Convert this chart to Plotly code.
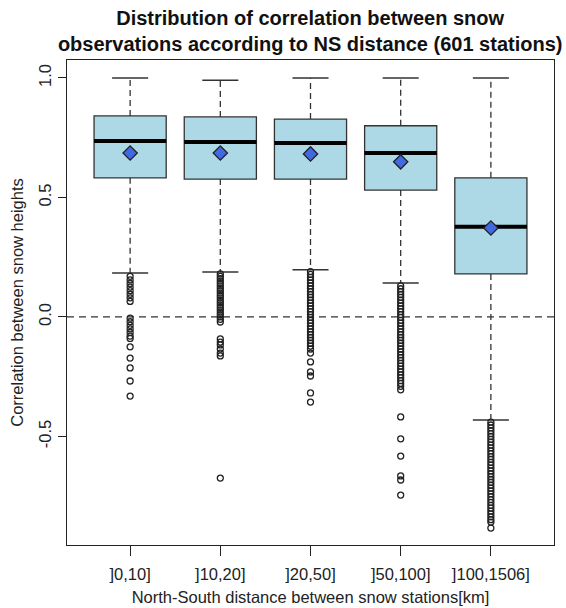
import plotly.graph_objects as go

categories = ["]0,10]", "]10,20]", "]20,50]", "]50,100]", "]100,1506]"]
q1 = [0.582, 0.577, 0.577, 0.531, 0.180]
median = [0.736, 0.732, 0.728, 0.686, 0.377]
q3 = [0.841, 0.837, 0.828, 0.800, 0.582]
mean = [0.686, 0.686, 0.682, 0.649, 0.372]
upper_whisker = [1.0, 0.99, 1.0, 1.0, 1.0]
lower_whisker = [0.184, 0.188, 0.197, 0.142, -0.431]

out_1 = [0.17, 0.155, 0.14, 0.125, 0.11, 0.095, 0.08, 0.065,
         -0.005, -0.02, -0.035, -0.05, -0.065, -0.08, -0.09, -0.125,
         -0.172, -0.213, -0.268, -0.331]
out_2 = [0.18, 0.17, 0.16, 0.15, 0.14, 0.13, 0.12, 0.11, 0.10, 0.09, 0.08,
         0.07, 0.06, 0.05, 0.04, 0.03, 0.02, 0.01, 0.0, -0.01, -0.021,
         -0.092, -0.105, -0.117, -0.134, -0.151, -0.163, -0.674]
out_3 = [0.19, 0.178, 0.166, 0.154, 0.142, 0.13, 0.118, 0.106, 0.094, 0.082,
         0.07, 0.058, 0.046, 0.034, 0.022, 0.01, -0.002, -0.014, -0.026,
         -0.038, -0.05, -0.062, -0.074, -0.086, -0.098, -0.11, -0.122,
         -0.134, -0.151, -0.188, -0.23, -0.247, -0.318, -0.356]
out_4 = [0.13, 0.118, 0.106, 0.094, 0.082, 0.07, 0.058, 0.046, 0.034, 0.022,
         0.01, -0.002, -0.014, -0.026, -0.038, -0.05, -0.062, -0.074, -0.086,
         -0.098, -0.11, -0.122, -0.134, -0.146, -0.158, -0.17, -0.182,
         -0.194, -0.206, -0.218, -0.23, -0.242, -0.254, -0.266, -0.278,
         -0.29, -0.305, -0.418, -0.51, -0.582, -0.665, -0.682, -0.745]
out_5 = [-0.44, -0.452, -0.464, -0.476, -0.488, -0.5, -0.512, -0.524, -0.536,
         -0.548, -0.56, -0.572, -0.584, -0.596, -0.608, -0.62, -0.632,
         -0.644, -0.656, -0.668, -0.68, -0.692, -0.704, -0.716, -0.728,
         -0.74, -0.752, -0.764, -0.776, -0.788, -0.8, -0.812, -0.824,
         -0.836, -0.848, -0.858, -0.883]
outliers = [out_1, out_2, out_3, out_4, out_5]

positions = [1, 2, 3, 4, 5]
BOX_W = 0.8
CAP_W = 0.4
dark = "#333333"

fig = go.Figure()

# zero reference line
fig.add_trace(go.Scatter(x=[0.3, 5.7], y=[0, 0], mode="lines",
                         line=dict(color="#333333", width=1.3, dash="7px,5px"),
                         hoverinfo="skip", showlegend=False))

# dashed whiskers
wx, wy = [], []
for i, p in enumerate(positions):
    wx += [p, p, None, p, p, None]
    wy += [q3[i], upper_whisker[i], None, q1[i], lower_whisker[i], None]
fig.add_trace(go.Scatter(x=wx, y=wy, mode="lines",
                         line=dict(color=dark, width=1.3, dash="6px,4px"),
                         hoverinfo="skip", showlegend=False))

# caps
cx, cy = [], []
for i, p in enumerate(positions):
    cx += [p - CAP_W / 2, p + CAP_W / 2, None, p - CAP_W / 2, p + CAP_W / 2, None]
    cy += [upper_whisker[i], upper_whisker[i], None, lower_whisker[i], lower_whisker[i], None]
fig.add_trace(go.Scatter(x=cx, y=cy, mode="lines",
                         line=dict(color=dark, width=1.5),
                         hoverinfo="skip", showlegend=False))

# boxes
for i, p in enumerate(positions):
    fig.add_trace(go.Box(x=[p], q1=[q1[i]], median=[median[i]], q3=[q3[i]],
                         lowerfence=[q1[i]], upperfence=[q3[i]],
                         width=BOX_W, fillcolor="#ADD8E6",
                         line=dict(color=dark, width=1.3),
                         boxpoints=False, hoverinfo="skip", showlegend=False))

# thick medians
mx, my = [], []
for i, p in enumerate(positions):
    mx += [p - BOX_W / 2, p + BOX_W / 2, None]
    my += [median[i], median[i], None]
fig.add_trace(go.Scatter(x=mx, y=my, mode="lines",
                         line=dict(color="black", width=4),
                         hoverinfo="skip", showlegend=False))

# outliers
ox, oy = [], []
for i, p in enumerate(positions):
    ox += [p] * len(outliers[i])
    oy += outliers[i]
fig.add_trace(go.Scatter(x=ox, y=oy, mode="markers",
                         marker=dict(symbol="circle-open", size=6, color="#222222",
                                     line=dict(width=1.3, color="#222222")),
                         hoverinfo="skip", showlegend=False))

# means
fig.add_trace(go.Scatter(x=positions, y=mean, mode="markers",
                         marker=dict(symbol="diamond", size=11, color="#4169E1",
                                     line=dict(width=1.3, color="#222222")),
                         hoverinfo="skip", showlegend=False))

fig.update_layout(
    width=566, height=608,
    margin=dict(l=67, r=12, t=60, b=63),
    paper_bgcolor="white", plot_bgcolor="white",
    font=dict(family="Liberation Sans, Arial, sans-serif", color="#222222", size=16),
    title=dict(text="<b>Distribution of correlation between snow<br>observations according to NS distance (601 stations)</b>",
               x=0.548, xanchor="center", y=0.959, yanchor="top",
               font=dict(size=20, color="#111111")),
    showlegend=False,
)
fig.update_xaxes(range=[0.3, 5.7], tickmode="array", tickvals=positions, ticktext=categories,
                 showline=True, linecolor="#222222", linewidth=1.3, mirror=True,
                 ticks="outside", ticklen=10, tickwidth=1.3, tickcolor="#222222",
                 ticklabelstandoff=4, automargin=False,
                 showgrid=False, zeroline=False,
                 tickfont=dict(size=16.5),
                 title=dict(text="North-South distance between snow stations[km]",
                            font=dict(size=16.5), standoff=9))
fig.update_yaxes(range=[-0.954, 1.075], tickmode="array", tickvals=[-0.5, 0.0, 0.5, 1.0],
                 ticktext=["-0.5", "0.0", "0.5", "1.0"], tickangle=-90,
                 showline=True, linecolor="#222222", linewidth=1.3, mirror=True,
                 ticks="outside", ticklen=8, tickwidth=1.3, tickcolor="#222222",
                 automargin=False,
                 showgrid=False, zeroline=False,
                 tickfont=dict(size=16.5),
                 title=dict(text="Correlation between snow heights",
                            font=dict(size=16.5), standoff=8))

fig.write_html("out.html")
